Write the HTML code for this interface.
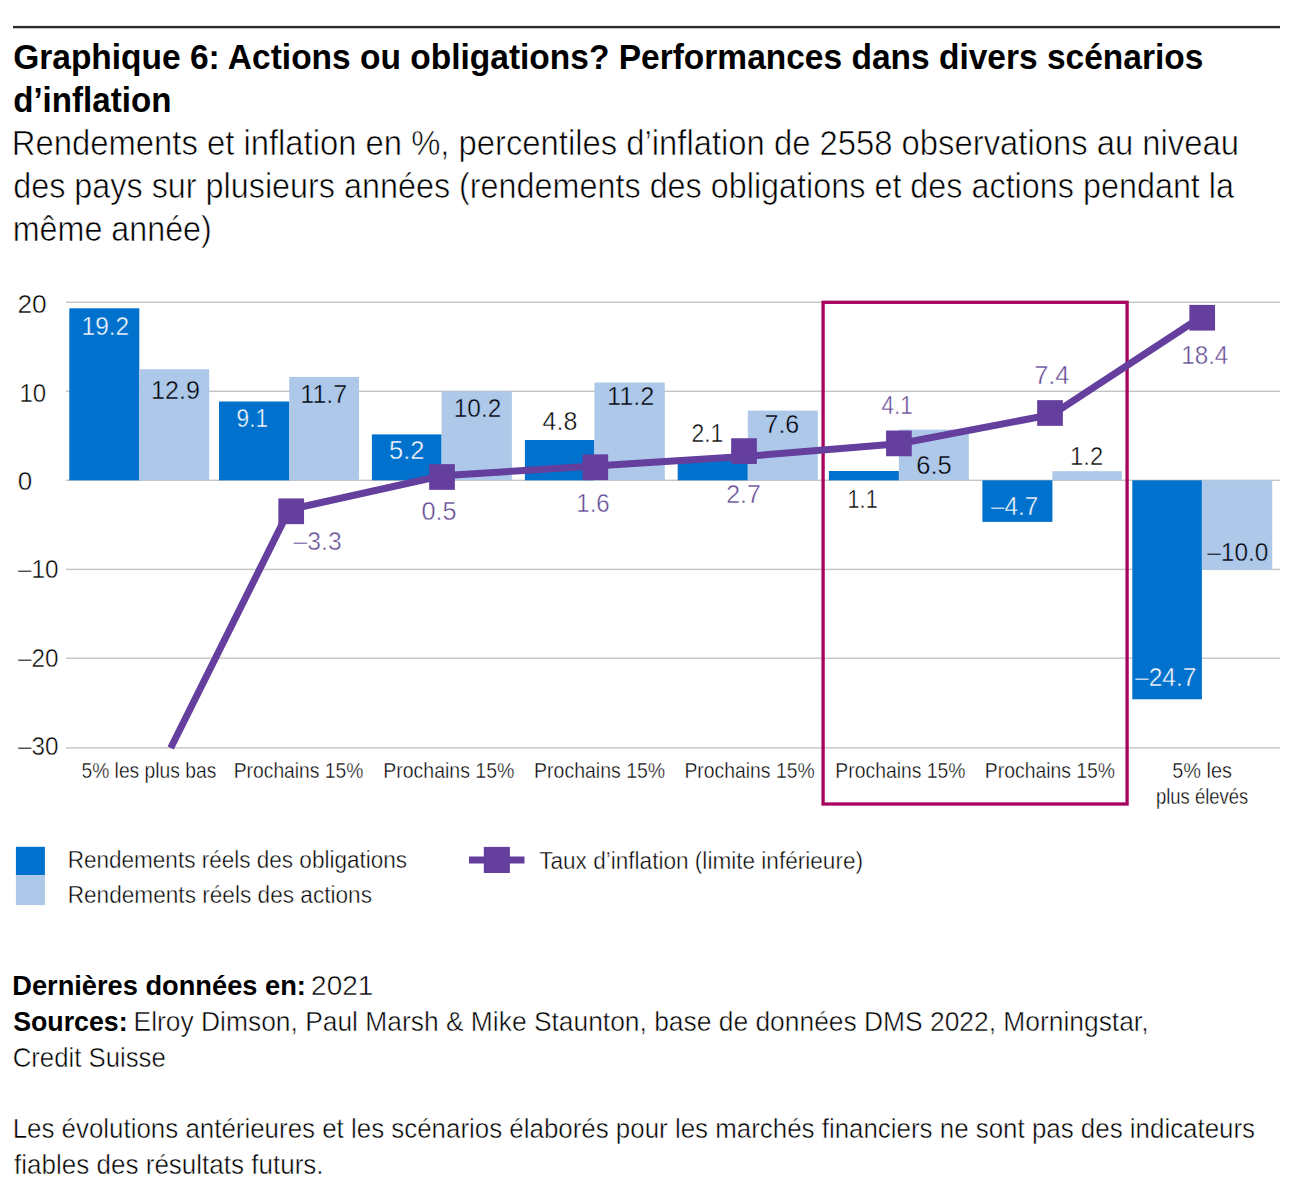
<!DOCTYPE html><html><head><meta charset="utf-8"><style>html,body{margin:0;padding:0;background:#fff;}svg{display:block;}text{font-family:"Liberation Sans",sans-serif;}</style></head><body>
<svg width="1312" height="1200" viewBox="0 0 1312 1200">
<rect x="0" y="0" width="1312" height="1200" fill="#fff"/>
<rect x="13" y="25.9" width="1267" height="2.4" fill="#2e2e2e"/>
<rect x="66" y="301.60" width="1214" height="1.4" fill="#c4c4c4"/>
<rect x="66" y="390.60" width="1214" height="1.4" fill="#c4c4c4"/>
<rect x="66" y="479.60" width="1214" height="1.4" fill="#c4c4c4"/>
<rect x="66" y="568.70" width="1214" height="1.4" fill="#c4c4c4"/>
<rect x="66" y="657.50" width="1214" height="1.4" fill="#c4c4c4"/>
<rect x="66" y="747.20" width="1214" height="1.4" fill="#c4c4c4"/>
<rect x="69.3" y="308.3" width="70.00" height="172.00" fill="#0072ce"/>
<rect x="219" y="401.5" width="70.30" height="78.80" fill="#0072ce"/>
<rect x="371.9" y="434.4" width="69.70" height="45.90" fill="#0072ce"/>
<rect x="524.9" y="440" width="69.50" height="40.30" fill="#0072ce"/>
<rect x="677.7" y="461" width="70.10" height="19.30" fill="#0072ce"/>
<rect x="828.9" y="471" width="70.00" height="9.30" fill="#0072ce"/>
<rect x="982.4" y="480.3" width="70.00" height="41.60" fill="#0072ce"/>
<rect x="1132.3" y="480.3" width="69.60" height="219.00" fill="#0072ce"/>
<rect x="139.3" y="369.2" width="69.90" height="111.10" fill="#adc8e9"/>
<rect x="289.3" y="376.9" width="69.70" height="103.40" fill="#adc8e9"/>
<rect x="441.6" y="391.5" width="70.30" height="88.80" fill="#adc8e9"/>
<rect x="594.4" y="382.5" width="70.40" height="97.80" fill="#adc8e9"/>
<rect x="747.8" y="410.6" width="70.00" height="69.70" fill="#adc8e9"/>
<rect x="898.9" y="429.6" width="69.90" height="50.70" fill="#adc8e9"/>
<rect x="1052.4" y="471.2" width="69.40" height="9.10" fill="#adc8e9"/>
<rect x="1201.9" y="480.3" width="70.30" height="89.50" fill="#adc8e9"/>
<rect x="823.1" y="302.3" width="304" height="501.7" fill="none" stroke="#a8005f" stroke-width="3.3"/>
<polyline points="170.70,748.00 289.30,509.67 441.60,475.85 594.40,466.06 747.80,456.27 898.90,443.81 1052.40,414.44 1201.90,316.54" fill="none" stroke="#643f9e" stroke-width="7" stroke-linejoin="miter" stroke-linecap="butt"/>
<rect x="278.35" y="498.45" width="25.7" height="25.7" fill="#643f9e"/>
<rect x="429.15" y="464.15" width="25.7" height="25.7" fill="#643f9e"/>
<rect x="582.45" y="454.35" width="25.7" height="25.7" fill="#643f9e"/>
<rect x="731.15" y="438.25" width="25.7" height="25.7" fill="#643f9e"/>
<rect x="886.05" y="430.55" width="25.7" height="25.7" fill="#643f9e"/>
<rect x="1037.15" y="400.15" width="25.7" height="25.7" fill="#643f9e"/>
<rect x="1189.35" y="304.90" width="25.7" height="25.7" fill="#643f9e"/>
<rect x="15.9" y="846.8" width="29" height="28.4" fill="#0072ce"/>
<rect x="15.9" y="875.2" width="29" height="29.9" fill="#adc8e9"/>
<rect x="469" y="856.5" width="55.5" height="7" fill="#643f9e"/>
<rect x="483.8" y="846.9" width="26.1" height="26.1" fill="#643f9e"/>
<text transform="translate(13.16 69.3) scale(0.9713 1)" font-size="34.5" font-weight="bold" fill="#000000" xml:space="preserve">Graphique 6: Actions ou obligations? Performances dans divers scénarios</text>
<text transform="translate(13.17 111.9) scale(0.9604 1)" font-size="34.5" font-weight="bold" fill="#000000" xml:space="preserve">d’inflation</text>
<text transform="translate(11.87 154.8) scale(0.9376 1)" font-size="35" font-weight="normal" fill="#000000" stroke="#ffffff" stroke-width="0.630" xml:space="preserve">Rendements et inflation en %, percentiles d’inflation de 2558 observations au niveau</text>
<text transform="translate(13.21 197.5) scale(0.9246 1)" font-size="35" font-weight="normal" fill="#000000" stroke="#ffffff" stroke-width="0.630" xml:space="preserve">des pays sur plusieurs années (rendements des obligations et des actions pendant la</text>
<text transform="translate(12.70 240.5) scale(0.9224 1)" font-size="35" font-weight="normal" fill="#000000" stroke="#ffffff" stroke-width="0.630" xml:space="preserve">même année)</text>
<text transform="translate(17.38 313.2) scale(1.0537 1)" font-size="25" font-weight="normal" fill="#000000" stroke="#ffffff" stroke-width="0.450" xml:space="preserve">20</text>
<text transform="translate(19.40 401.5) scale(0.9600 1)" font-size="25" font-weight="normal" fill="#000000" stroke="#ffffff" stroke-width="0.450" xml:space="preserve">10</text>
<text transform="translate(17.66 489.7) scale(1.0417 1)" font-size="25" font-weight="normal" fill="#000000" stroke="#ffffff" stroke-width="0.450" xml:space="preserve">0</text>
<text transform="translate(18.10 578.4) scale(0.9718 1)" font-size="25" font-weight="normal" fill="#000000" stroke="#ffffff" stroke-width="0.450" xml:space="preserve">–10</text>
<text transform="translate(18.10 666.5) scale(0.9718 1)" font-size="25" font-weight="normal" fill="#000000" stroke="#ffffff" stroke-width="0.450" xml:space="preserve">–20</text>
<text transform="translate(17.90 755.2) scale(0.9718 1)" font-size="25" font-weight="normal" fill="#000000" stroke="#ffffff" stroke-width="0.450" xml:space="preserve">–30</text>
<text transform="translate(81.57 335.1) scale(0.9780 1)" font-size="25" font-weight="normal" fill="#ffffff" stroke="#0072ce" stroke-width="0.450" xml:space="preserve">19.2</text>
<text transform="translate(151.02 398.8) scale(1.0038 1)" font-size="25" font-weight="normal" fill="#000000" stroke="#adc8e9" stroke-width="0.450" xml:space="preserve">12.9</text>
<text transform="translate(236.58 426.6) scale(0.9046 1)" font-size="25" font-weight="normal" fill="#ffffff" stroke="#0072ce" stroke-width="0.450" xml:space="preserve">9.1</text>
<text transform="translate(300.32 402.6) scale(1.0017 1)" font-size="25" font-weight="normal" fill="#000000" stroke="#adc8e9" stroke-width="0.450" xml:space="preserve">11.7</text>
<text transform="translate(293.60 550) scale(0.9869 1)" font-size="25" font-weight="normal" fill="#5f4691" stroke="#ffffff" stroke-width="0.450" xml:space="preserve">–3.3</text>
<text transform="translate(388.98 458.5) scale(1.0185 1)" font-size="25" font-weight="normal" fill="#ffffff" stroke="#0072ce" stroke-width="0.450" xml:space="preserve">5.2</text>
<text transform="translate(453.77 416.9) scale(0.9758 1)" font-size="25" font-weight="normal" fill="#000000" stroke="#adc8e9" stroke-width="0.450" xml:space="preserve">10.2</text>
<text transform="translate(421.49 520.4) scale(1.0107 1)" font-size="25" font-weight="normal" fill="#5f4691" stroke="#ffffff" stroke-width="0.450" xml:space="preserve">0.5</text>
<text transform="translate(542.60 430) scale(0.9985 1)" font-size="25" font-weight="normal" fill="#000000" stroke="#ffffff" stroke-width="0.450" xml:space="preserve">4.8</text>
<text transform="translate(606.90 405) scale(1.0155 1)" font-size="25" font-weight="normal" fill="#000000" stroke="#adc8e9" stroke-width="0.450" xml:space="preserve">11.2</text>
<text transform="translate(576.29 511.9) scale(0.9631 1)" font-size="25" font-weight="normal" fill="#5f4691" stroke="#ffffff" stroke-width="0.450" xml:space="preserve">1.6</text>
<text transform="translate(691.45 442) scale(0.9174 1)" font-size="25" font-weight="normal" fill="#000000" stroke="#ffffff" stroke-width="0.450" xml:space="preserve">2.1</text>
<text transform="translate(764.45 433.4) scale(1.0031 1)" font-size="25" font-weight="normal" fill="#000000" stroke="#adc8e9" stroke-width="0.450" xml:space="preserve">7.6</text>
<text transform="translate(726.16 502.6) scale(0.9953 1)" font-size="25" font-weight="normal" fill="#5f4691" stroke="#ffffff" stroke-width="0.450" xml:space="preserve">2.7</text>
<text transform="translate(881.45 413.8) scale(0.8996 1)" font-size="25" font-weight="normal" fill="#5f4691" stroke="#ffffff" stroke-width="0.450" xml:space="preserve">4.1</text>
<text transform="translate(916.22 473.9) scale(1.0215 1)" font-size="25" font-weight="normal" fill="#000000" stroke="#adc8e9" stroke-width="0.450" xml:space="preserve">6.5</text>
<text transform="translate(847.58 507.7) scale(0.8661 1)" font-size="25" font-weight="normal" fill="#000000" stroke="#ffffff" stroke-width="0.450" xml:space="preserve">1.1</text>
<text transform="translate(1034.13 383.6) scale(1.0168 1)" font-size="25" font-weight="normal" fill="#5f4691" stroke="#ffffff" stroke-width="0.450" xml:space="preserve">7.4</text>
<text transform="translate(991.10 514.7) scale(0.9689 1)" font-size="25" font-weight="normal" fill="#ffffff" stroke="#0072ce" stroke-width="0.450" xml:space="preserve">–4.7</text>
<text transform="translate(1070.12 464.8) scale(0.9518 1)" font-size="25" font-weight="normal" fill="#000000" stroke="#ffffff" stroke-width="0.450" xml:space="preserve">1.2</text>
<text transform="translate(1181.18 363.5) scale(0.9696 1)" font-size="25" font-weight="normal" fill="#5f4691" stroke="#ffffff" stroke-width="0.450" xml:space="preserve">18.4</text>
<text transform="translate(1135.00 685.9) scale(0.9829 1)" font-size="25" font-weight="normal" fill="#ffffff" stroke="#0072ce" stroke-width="0.450" xml:space="preserve">–24.7</text>
<text transform="translate(1207.20 560.5) scale(0.9785 1)" font-size="25" font-weight="normal" fill="#000000" stroke="#adc8e9" stroke-width="0.450" xml:space="preserve">–10.0</text>
<text transform="translate(81.43 778.0) scale(0.8960 1)" font-size="21.5" font-weight="normal" fill="#000000" stroke="#ffffff" stroke-width="0.387" xml:space="preserve">5% les plus bas</text>
<text transform="translate(233.76 778.0) scale(0.8972 1)" font-size="21.5" font-weight="normal" fill="#000000" stroke="#ffffff" stroke-width="0.387" xml:space="preserve">Prochains 15%</text>
<text transform="translate(383.24 778.0) scale(0.9077 1)" font-size="21.5" font-weight="normal" fill="#000000" stroke="#ffffff" stroke-width="0.387" xml:space="preserve">Prochains 15%</text>
<text transform="translate(534.04 778.0) scale(0.9077 1)" font-size="21.5" font-weight="normal" fill="#000000" stroke="#ffffff" stroke-width="0.387" xml:space="preserve">Prochains 15%</text>
<text transform="translate(684.45 778.0) scale(0.9007 1)" font-size="21.5" font-weight="normal" fill="#000000" stroke="#ffffff" stroke-width="0.387" xml:space="preserve">Prochains 15%</text>
<text transform="translate(835.35 778.0) scale(0.9007 1)" font-size="21.5" font-weight="normal" fill="#000000" stroke="#ffffff" stroke-width="0.387" xml:space="preserve">Prochains 15%</text>
<text transform="translate(984.85 778.0) scale(0.9007 1)" font-size="21.5" font-weight="normal" fill="#000000" stroke="#ffffff" stroke-width="0.387" xml:space="preserve">Prochains 15%</text>
<text transform="translate(1172.30 778.1) scale(0.9255 1)" font-size="21.5" font-weight="normal" fill="#000000" stroke="#ffffff" stroke-width="0.387" xml:space="preserve">5% les</text>
<text transform="translate(1155.90 803.7) scale(0.8591 1)" font-size="21.5" font-weight="normal" fill="#000000" stroke="#ffffff" stroke-width="0.387" xml:space="preserve">plus élevés</text>
<text transform="translate(67.70 868.2) scale(0.9163 1)" font-size="24.6" font-weight="normal" fill="#000000" stroke="#ffffff" stroke-width="0.443" xml:space="preserve">Rendements réels des obligations</text>
<text transform="translate(67.69 902.7) scale(0.9200 1)" font-size="24.6" font-weight="normal" fill="#000000" stroke="#ffffff" stroke-width="0.443" xml:space="preserve">Rendements réels des actions</text>
<text transform="translate(539.15 868.7) scale(0.9185 1)" font-size="24.6" font-weight="normal" fill="#000000" stroke="#ffffff" stroke-width="0.443" xml:space="preserve">Taux d’inflation (limite inférieure)</text>
<text transform="translate(12.23 995.3) scale(0.9909 1)" font-size="27.5" font-weight="bold" fill="#000000" xml:space="preserve">Dernières données en:</text>
<text transform="translate(311.10 995.3) scale(1.0158 1)" font-size="27.5" font-weight="normal" fill="#000000" stroke="#ffffff" stroke-width="0.495" xml:space="preserve">2021</text>
<text transform="translate(13.20 1030.9) scale(0.9726 1)" font-size="27.5" font-weight="bold" fill="#000000" xml:space="preserve">Sources:</text>
<text transform="translate(133.59 1030.9) scale(0.9603 1)" font-size="27.5" font-weight="normal" fill="#000000" stroke="#ffffff" stroke-width="0.495" xml:space="preserve">Elroy Dimson, Paul Marsh &amp; Mike Staunton, base de données DMS 2022, Morningstar,</text>
<text transform="translate(12.71 1066.5) scale(0.9361 1)" font-size="27.5" font-weight="normal" fill="#000000" stroke="#ffffff" stroke-width="0.495" xml:space="preserve">Credit Suisse</text>
<text transform="translate(12.63 1137.8) scale(0.9424 1)" font-size="27.5" font-weight="normal" fill="#000000" stroke="#ffffff" stroke-width="0.495" xml:space="preserve">Les évolutions antérieures et les scénarios élaborés pour les marchés financiers ne sont pas des indicateurs</text>
<text transform="translate(14.11 1173.9) scale(0.9463 1)" font-size="27.5" font-weight="normal" fill="#000000" stroke="#ffffff" stroke-width="0.495" xml:space="preserve">fiables des résultats futurs.</text>
</svg></body></html>
